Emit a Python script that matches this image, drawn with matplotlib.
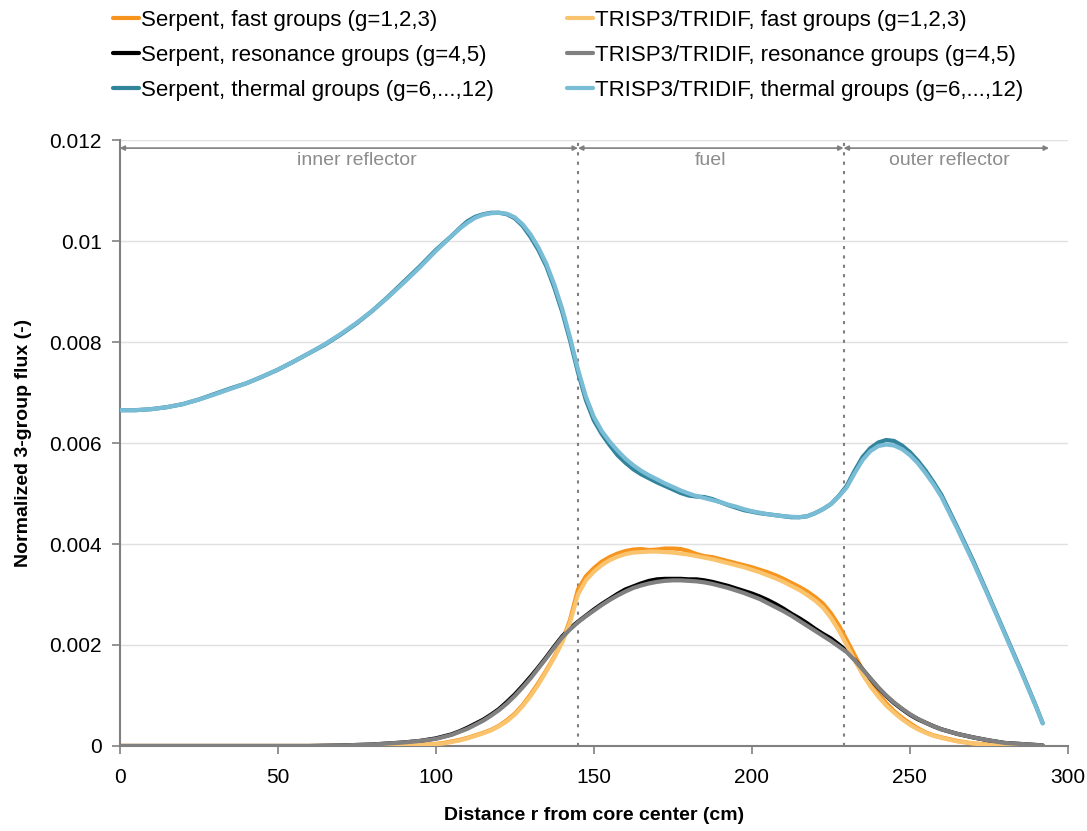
import matplotlib
matplotlib.use("Agg")
import matplotlib.pyplot as plt

plt.rcParams['font.family'] = ['Liberation Sans', 'DejaVu Sans']

# radial positions (cm)
r = [0, 5, 10, 15, 20, 25, 30, 35, 40, 45, 50, 55, 60, 65, 70, 75, 80, 85, 90, 95,
     100, 102.5, 105, 107.5, 110, 112.5, 115, 117.5, 120, 122.5, 125, 127.5, 130, 132.5,
     135, 137.5, 140, 142.5, 145, 147.5, 150, 152.5, 155, 157.5, 160, 162.5, 165, 167.5,
     170, 172.5, 175, 177.5, 180, 182.5, 185, 187.5, 190, 192.5, 195, 197.5, 200, 202.5,
     205, 207.5, 210, 212.5, 215, 217.5, 220, 222.5, 225, 227.5, 230, 232.5, 235, 237.5,
     240, 242.5, 245, 247.5, 250, 252.5, 255, 257.5, 260,
     265, 270, 275, 280, 285, 290, 292]

serpent_fast = [0, 0, 0, 0, 0, 0, 0, 0, 0, 0, 0, 0, 0, 0, 0, 0, 0, 0, 0.00001, 0.00002,
                0.00004, 0.00006, 0.00009, 0.00012, 0.00016, 0.00021, 0.00026, 0.00032, 0.00040, 0.00051,
                0.00064, 0.00081, 0.00102, 0.00125, 0.00150, 0.00177, 0.00207, 0.00250, 0.00310, 0.00336,
                0.00352, 0.00365, 0.00374, 0.00381, 0.00386, 0.00389, 0.00390, 0.00388, 0.00389, 0.00391,
                0.00391, 0.00390, 0.00386, 0.00380, 0.00376, 0.00374, 0.00370, 0.00366, 0.00362, 0.00358,
                0.00354, 0.00349, 0.00344, 0.00338, 0.00331, 0.00323, 0.00315, 0.00306, 0.00295, 0.00282,
                0.00263, 0.00239, 0.00210, 0.00180, 0.00151, 0.00125, 0.00103, 0.00085, 0.00069, 0.00056,
                0.00045, 0.00035, 0.00027, 0.00021, 0.00017,
                0.00010, 0.00005, 0.00003, 0.00001, 0, 0, 0]
trisp_fast = [0, 0, 0, 0, 0, 0, 0, 0, 0, 0, 0, 0, 0, 0, 0, 0, 0, 0, 0.00001, 0.00002,
              0.00004, 0.00005, 0.00008, 0.00011, 0.00015, 0.00020, 0.00025, 0.00031, 0.00039, 0.00049,
              0.00062, 0.00079, 0.00099, 0.00122, 0.00148, 0.00175, 0.00205, 0.00245, 0.00300, 0.00328,
              0.00345, 0.00358, 0.00368, 0.00375, 0.00380, 0.00383, 0.00384, 0.00385, 0.00385, 0.00384,
              0.00383, 0.00381, 0.00379, 0.00376, 0.00373, 0.00370, 0.00366, 0.00362, 0.00358, 0.00354,
              0.00349, 0.00344, 0.00338, 0.00332, 0.00325, 0.00317, 0.00309, 0.00299, 0.00288, 0.00274,
              0.00254, 0.00229, 0.00200, 0.00170, 0.00142, 0.00118, 0.00098, 0.00080, 0.00066, 0.00053,
              0.00042, 0.00033, 0.00026, 0.00020, 0.00016,
              0.00009, 0.00005, 0.00002, 0.00001, 0, 0, 0]

serpent_res = [0, 0, 0, 0, 0, 0, 0, 0, 0, 0, 0, 0, 0, 0.000005, 0.00001, 0.00002, 0.00003, 0.00005, 0.00007, 0.00010,
               0.00015, 0.00019, 0.00023, 0.00029, 0.00036, 0.00044, 0.00052, 0.00062, 0.00073, 0.00087,
               0.00102, 0.00119, 0.00137, 0.00156, 0.00176, 0.00197, 0.00217, 0.00233, 0.00246, 0.00258,
               0.00270, 0.00281, 0.00291, 0.00301, 0.00310, 0.00316, 0.00322, 0.00327, 0.00330, 0.00331,
               0.00331, 0.00331, 0.00330, 0.00330, 0.00328, 0.00325, 0.00321, 0.00317, 0.00312, 0.00307,
               0.00302, 0.00296, 0.00289, 0.00281, 0.00272, 0.00262, 0.00253, 0.00243, 0.00232, 0.00222,
               0.00213, 0.00201, 0.00188, 0.00171, 0.00152, 0.00133, 0.00115, 0.00099, 0.00085, 0.00073,
               0.00062, 0.00053, 0.00046, 0.00039, 0.00033,
               0.00024, 0.00017, 0.00011, 0.00006, 0.00004, 0.00002, 0.00001]
trisp_res = [0, 0, 0, 0, 0, 0, 0, 0, 0, 0, 0, 0, 0, 0.000005, 0.00001, 0.00002, 0.00003, 0.00005, 0.00007, 0.00010,
             0.00014, 0.00018, 0.00022, 0.00028, 0.00034, 0.00042, 0.00050, 0.00060, 0.00071, 0.00084,
             0.00099, 0.00116, 0.00134, 0.00154, 0.00174, 0.00195, 0.00215, 0.00231, 0.00245, 0.00257,
             0.00268, 0.00279, 0.00289, 0.00298, 0.00306, 0.00313, 0.00318, 0.00322, 0.00325, 0.00327,
             0.00328, 0.00328, 0.00327, 0.00326, 0.00324, 0.00321, 0.00317, 0.00313, 0.00308, 0.00303,
             0.00297, 0.00291, 0.00283, 0.00275, 0.00267, 0.00258, 0.00248, 0.00238, 0.00228, 0.00218,
             0.00208, 0.00197, 0.00186, 0.00170, 0.00152, 0.00134, 0.00116, 0.00100, 0.00086, 0.00074,
             0.00063, 0.00054, 0.00046, 0.00039, 0.00033,
             0.00024, 0.00017, 0.00011, 0.00006, 0.00004, 0.00002, 0.00001]

serpent_th = [0.00665, 0.00665, 0.00667, 0.00671, 0.00677, 0.00686, 0.00697, 0.00708, 0.00718, 0.00731,
              0.00745, 0.00761, 0.00778, 0.00795, 0.00815, 0.00837, 0.00862, 0.00890, 0.00920, 0.00950,
              0.00982, 0.00996, 0.01010, 0.01025, 0.01039, 0.01048, 0.01053, 0.01056, 0.01056, 0.01053,
              0.01045, 0.01030, 0.01008, 0.00982, 0.00950, 0.00908, 0.00860, 0.00803, 0.00740, 0.00685,
              0.00645, 0.00618, 0.00596, 0.00576, 0.00561, 0.00548, 0.00538, 0.00530, 0.00522, 0.00515,
              0.00508, 0.00501, 0.00496, 0.00494, 0.00493, 0.00489, 0.00483, 0.00477, 0.00472, 0.00467,
              0.00464, 0.00461, 0.00459, 0.00457, 0.00455, 0.00453, 0.00453, 0.00455, 0.00461, 0.00469,
              0.00479, 0.00495, 0.00515, 0.00545, 0.00572, 0.00590, 0.00601, 0.00606, 0.00604, 0.00595,
              0.00582, 0.00565, 0.00545, 0.00522, 0.00497,
              0.00433, 0.00367, 0.00296, 0.00224, 0.00152, 0.00077, 0.00045]
trisp_th = [0.00665, 0.00665, 0.00667, 0.00671, 0.00677, 0.00686, 0.00696, 0.00707, 0.00718, 0.00731,
            0.00745, 0.00761, 0.00778, 0.00796, 0.00816, 0.00838, 0.00862, 0.00889, 0.00918, 0.00948,
            0.00980, 0.00995, 0.01010, 0.01024, 0.01036, 0.01046, 0.01052, 0.01055, 0.01056, 0.01054,
            0.01047, 0.01033, 0.01013, 0.00987, 0.00955, 0.00914, 0.00866, 0.00809, 0.00746, 0.00692,
            0.00652, 0.00624, 0.00603, 0.00585, 0.00569, 0.00556, 0.00545, 0.00536, 0.00528, 0.00520,
            0.00513, 0.00506, 0.00500, 0.00495, 0.00491, 0.00487, 0.00483, 0.00478, 0.00474, 0.00469,
            0.00465, 0.00462, 0.00459, 0.00457, 0.00455, 0.00454, 0.00453, 0.00455, 0.00461, 0.00469,
            0.00479, 0.00494, 0.00512, 0.00540, 0.00566, 0.00584, 0.00594, 0.00597, 0.00595, 0.00588,
            0.00576, 0.00560, 0.00540, 0.00518, 0.00493,
            0.00430, 0.00364, 0.00294, 0.00222, 0.00150, 0.00076, 0.00045]

regions = ["inner reflector", "fuel", "outer reflector"]
region_edges = [0, 145, 229, 294]
region_text_x = [75, 187, 262.5]

fig = plt.figure(figsize=(10.87, 8.31), dpi=100)
ax = fig.add_axes([0.110, 0.1023, 0.8725, 0.7292])

lw = 3.0
kw = dict(lw=lw, solid_joinstyle='round', solid_capstyle='round')
ax.plot(r, serpent_fast, color='#f7941d', label='Serpent, fast groups (g=1,2,3)', zorder=3, **kw)
ax.plot(r, serpent_res, color='#000000', label='Serpent, resonance groups (g=4,5)', zorder=3, **kw)
ax.plot(r, serpent_th, color='#31849b', label='Serpent, thermal groups (g=6,...,12)', zorder=3, **kw)
ax.plot(r, trisp_fast, color='#fac46e', label='TRISP3/TRIDIF, fast groups (g=1,2,3)', zorder=4, **kw)
ax.plot(r, trisp_res, color='#808080', label='TRISP3/TRIDIF, resonance groups (g=4,5)', zorder=4, **kw)
ax.plot(r, trisp_th, color='#78bcd6', label='TRISP3/TRIDIF, thermal groups (g=6,...,12)', zorder=4, **kw)

# region boundaries and arrows
for xb in region_edges[1:3]:
    ax.plot([xb, xb], [0, 0.012], color='#7f7f7f', lw=1.5, ls=(0, (1.5, 3)), zorder=2)
for i, name in enumerate(regions):
    ax.annotate('', xy=(region_edges[i], 0.01184), xytext=(region_edges[i + 1], 0.01184),
                arrowprops=dict(arrowstyle='<|-|>', color='#7f7f7f', lw=1.2,
                                mutation_scale=7, shrinkA=0, shrinkB=0))
    ax.text(region_text_x[i], 0.01160, name, ha='center', va='center',
            fontsize=14, color='#8c8c8c')

ax.set_xlim(0, 300)
ax.set_ylim(0, 0.012)
ax.set_xticks([0, 50, 100, 150, 200, 250, 300])
ax.set_yticks([0, 0.002, 0.004, 0.006, 0.008, 0.01, 0.012])
ax.set_yticklabels(['0', '0.002', '0.004', '0.006', '0.008', '0.01', '0.012'])
ax.tick_params(axis='both', direction='out', length=6, width=1.2, color='#808080',
               labelsize=15, pad=7)
ax.tick_params(axis='x', pad=10)
ax.grid(axis='y', color='#e0e0e0', lw=1)
ax.set_axisbelow(True)
for s in ['top', 'right']:
    ax.spines[s].set_visible(False)
for s in ['left', 'bottom']:
    ax.spines[s].set_color('#808080')
    ax.spines[s].set_linewidth(1.5)

ax.set_xlabel('Distance r from core center (cm)', fontsize=14, fontweight='bold', labelpad=14)
ax.set_ylabel('Normalized 3-group flux (-)', fontsize=14, fontweight='bold', labelpad=12)

handles, labels = ax.get_legend_handles_labels()
fig.legend(handles, labels, loc='upper left', bbox_to_anchor=(0.086, 1.012), ncol=2,
           frameon=False, fontsize=16, handlelength=1.15, handletextpad=0.1,
           columnspacing=3.3, labelspacing=0.62)

fig.savefig('out.png', dpi=100)
